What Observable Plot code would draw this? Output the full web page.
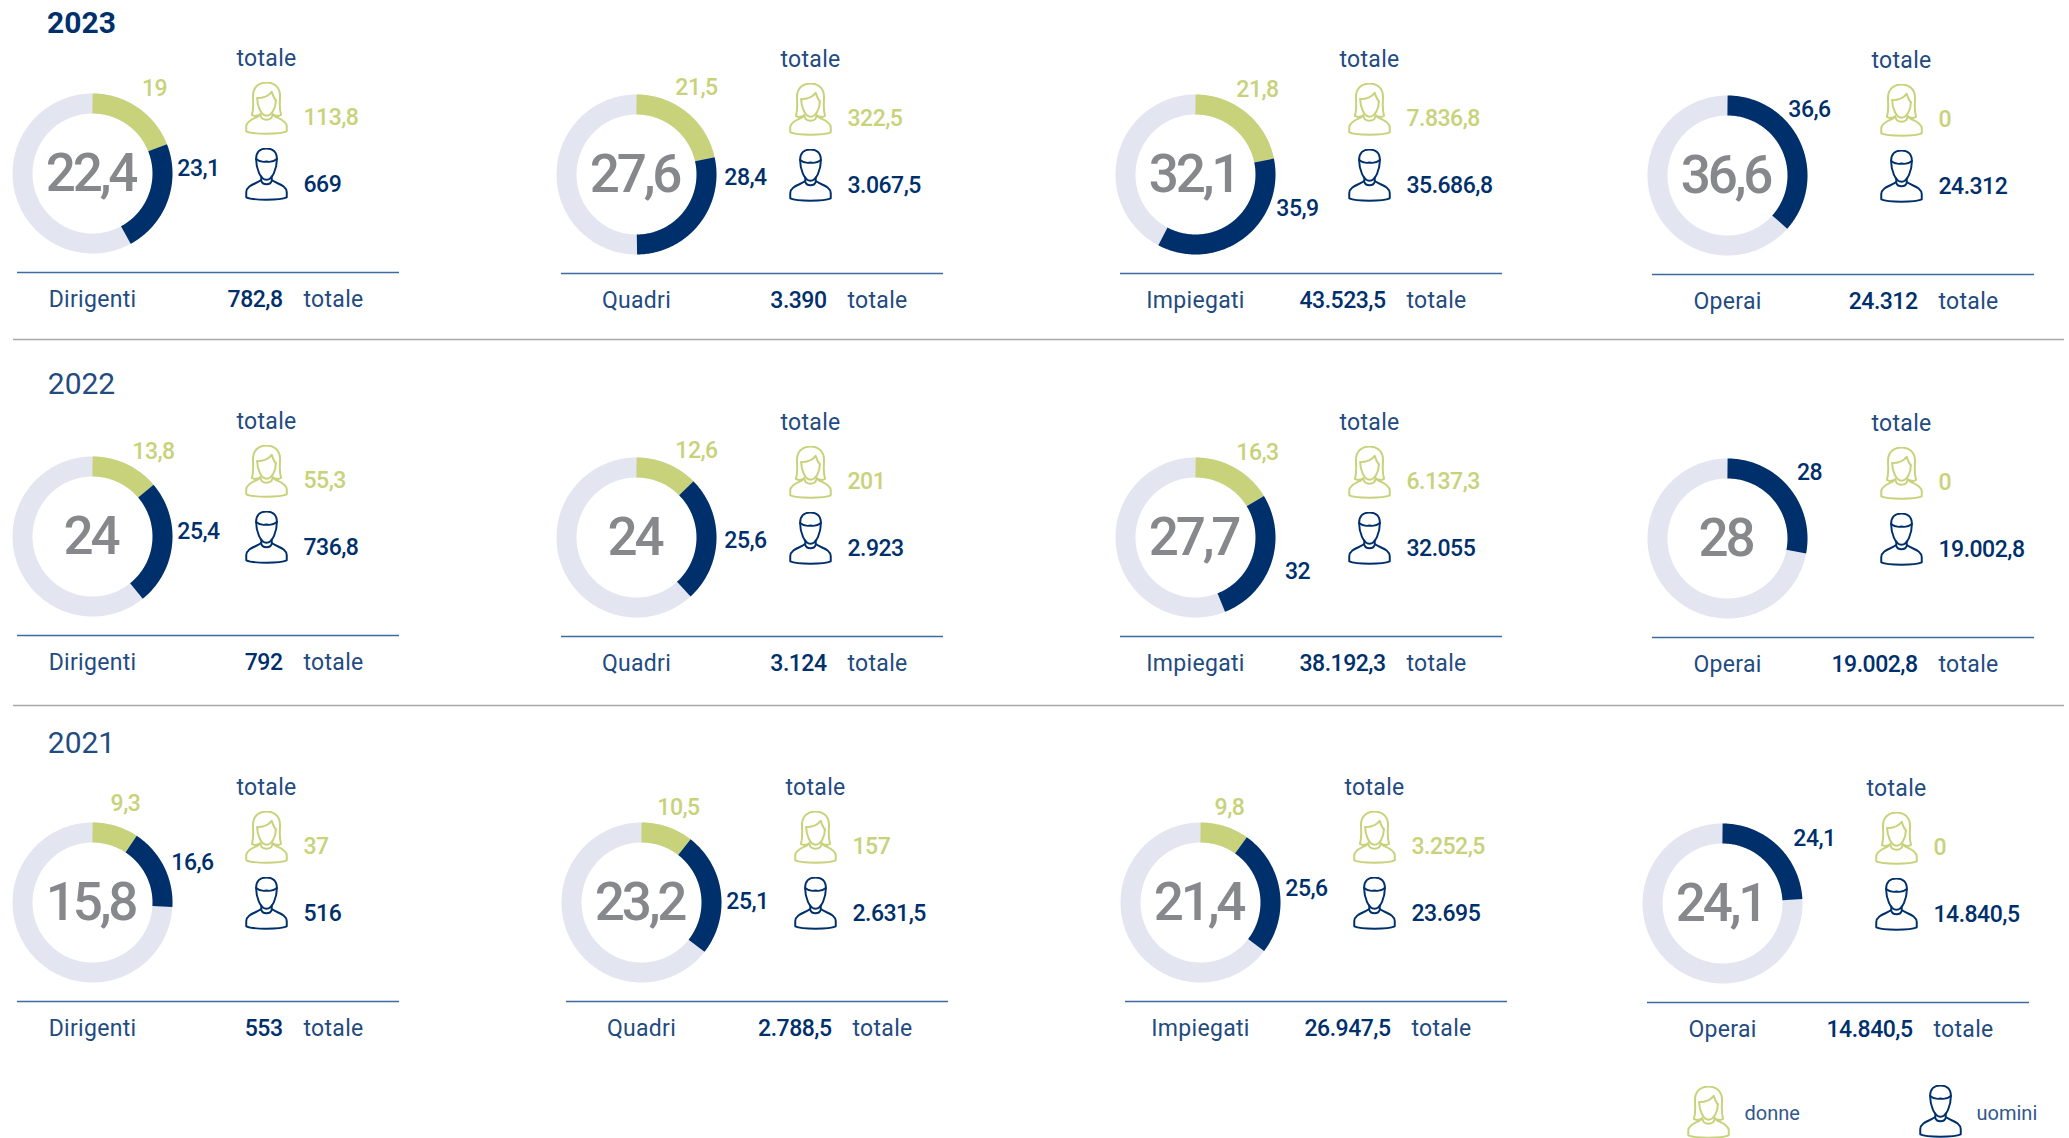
<!DOCTYPE html>
<html lang="it">
<head>
<meta charset="utf-8">
<title>Età e genere per categoria</title>
<script src="https://cdn.jsdelivr.net/npm/d3@7"></script>
<script src="https://cdn.jsdelivr.net/npm/@observablehq/plot@0.6"></script>
<style>
html,body{margin:0;padding:0;background:#fff;overflow:hidden}
svg{display:block}
g[font-size="53"] text{letter-spacing:-3.2px}
g[font-size="23"][font-weight="500"] text{letter-spacing:-.5px}
g[font-size="23"]:not([font-weight]) text{letter-spacing:.3px}
</style>
</head>
<body>
<div id="chart"></div>
<script>
// ---- data (row order: 2023, 2022, 2021; column order: categories) ----
const years = [2023, 2022, 2021];
const categories = ["Dirigenti", "Quadri", "Impiegati", "Operai"];
const womenPct = [19, 21.5, 21.8, 0, 13.8, 12.6, 16.3, 0, 9.3, 10.5, 9.8, 0];
const menPct = [23.1, 28.4, 35.9, 36.6, 25.4, 25.6, 32, 28, 16.6, 25.1, 25.6, 24.1];
// length of the navy arc as drawn; the 2022 Impiegati ring is drawn shorter than its "32" label
const menArc = [23.1, 28.4, 35.9, 36.6, 25.4, 25.6, 27.7, 28, 16.6, 25.1, 25.6, 24.1];
const overallPct = [22.4, 27.6, 32.1, 36.6, 24, 24, 27.7, 28, 15.8, 23.2, 21.4, 24.1];
const womenTotal = [113.8, 322.5, 7836.8, 0, 55.3, 201, 6137.3, 0, 37, 157, 3252.5, 0];
const menTotal = [669, 3067.5, 35686.8, 24312, 736.8, 2923, 32055, 19002.8, 516, 2631.5, 23695, 14840.5];
const allTotal = [782.8, 3390, 43523.5, 24312, 792, 3124, 38192.3, 19002.8, 553, 2788.5, 26947.5, 14840.5];

// ---- layout ----
const W = 2069, H = 1138;
const centers = [[92,173],[636,174],[1195,174],[1727,175],[92,536],[636,537],[1195,537],[1727,538],[92,902],[641,902],[1200,902],[1722,903]];
const womenLabelOffset = [[62,-85],[60,-87],[62,-85],[0,0],[61,-85],[60,-87],[62,-85],[0,0],[33,-99],[37,-95],[29,-95],[0,0]];
const menLabelOffset = [[106,-5],[109,3],[102,34],[82,-66],[106,-5],[109,3],[102,34],[82,-66],[100,-40],[106,-1],[106,-14],[92,-65]];
const yearPos = [[81,23],[81,384],[81,743]];
const separators = [339, 705];
const NAVY = "#00306b", GREEN = "#c8d27a", TRACK = "#e3e6f1", GREY = "#87888c", BLUE = "#234b80";
const FONT = "Roboto";

const fmt = d3.formatLocale({decimal: ",", thousands: ".", grouping: [3], currency: ["", ""]}).format(",.1~f");

const panels = centers.map(([cx, cy], i) => ({
  cx, cy,
  category: categories[i % 4],
  women: womenPct[i], men: menPct[i], arcMen: menArc[i], overall: overallPct[i],
  womenTotal: womenTotal[i], menTotal: menTotal[i], allTotal: allTotal[i],
  wx: cx + womenLabelOffset[i][0], wy: cy + womenLabelOffset[i][1],
  mx: cx + menLabelOffset[i][0], my: cy + menLabelOffset[i][1]
}));

// ring segments: percentages map to fractions of the circle, clockwise from 12 o'clock
const R = 70;
function arc(p, from, to) {
  const a0 = from * 3.6, a1 = to * 3.6, out = [];
  const n = Math.max(2, Math.ceil(a1 - a0));
  for (let k = 0; k <= n; k++) {
    const t = (a0 + (a1 - a0) * k / n) * Math.PI / 180;
    out.push({x: p.cx + R * Math.sin(t), y: p.cy - R * Math.cos(t), z: p.cx + "-" + p.cy});
  }
  return out;
}
const trackPts = panels.flatMap(p => arc(p, 0, 100));
const womenPts = panels.filter(p => p.women > 0).flatMap(p => arc(p, 0, p.women));
const menPts = panels.flatMap(p => arc(p, p.women, p.women + p.arcMen));

// icons
function icon(color, inner) {
  const svg = `<svg xmlns="http://www.w3.org/2000/svg" viewBox="0 0 42 52"><g fill="none" stroke="${color}" stroke-width="1.9" stroke-linecap="round" stroke-linejoin="round">${inner}</g></svg>`;
  return "data:image/svg+xml;utf8," + encodeURIComponent(svg);
}
const womanInner = `<path d="M7 32C9 26 8 20 8 14C8 5 14 1 21 1C28 1 34 5 34 14C34 20 33 26 35 32C33 34 29 33 27 31.500"/><path d="M7 32C9 34 13 33 15 31.500"/><path d="M12 16C17 16 23 14 26 10C27 13 28 16 30 18"/><path d="M12 16C12 24 16 33 21 33C26 33 30 26 30 18"/><path d="M15 31.500C14 35 2 36 1.500 43L1.500 48C8 51 34 51 40.500 48L40.500 43C40 36 28 35 27 31.500"/><path d="M15.500 33C16 38 26 38 26.500 33"/>`;
const manInner = `<path d="M21 1C15 1 11 4 11 11C11 20 15 31 21 31C27 31 31 20 31 11C31 4 27 1 21 1Z"/><path d="M11 11C14 13.500 17 14.500 21 13.500C25 14.500 28 13.500 31 11"/><path d="M16 28L16 31C13 35 2 35 1.500 43L1.500 48C8 51 34 51 40.500 48L40.500 43C40 35 29 35 26 31L26 28"/><path d="M16 32C17 36.500 25 36.500 26 32"/>`;
const womanSrc = icon(GREEN, womanInner), manSrc = icon(NAVY, manInner);

const text = (data, opts) => Plot.text(data, {fontFamily: FONT, lineAnchor: "middle", ...opts});

const plot = Plot.plot({
  width: W, height: H, margin: 0,
  x: {domain: [0, W], range: [0, W], axis: null},
  y: {domain: [0, H], range: [0, H], axis: null},
  style: {background: "#fff"},
  marks: [
    // rings
    Plot.line(trackPts, {x: "x", y: "y", z: "z", stroke: TRACK, strokeWidth: 20, strokeLinejoin: "round", strokeLinecap: "butt"}),
    Plot.line(womenPts, {x: "x", y: "y", z: "z", stroke: GREEN, strokeWidth: 20, strokeLinejoin: "round", strokeLinecap: "butt"}),
    Plot.line(menPts, {x: "x", y: "y", z: "z", stroke: NAVY, strokeWidth: 20, strokeLinejoin: "round", strokeLinecap: "butt"}),
    // ring labels
    text(panels, {x: d => d.cx - 2, y: d => d.cy + 1, text: d => fmt(d.overall), fill: GREY, fontSize: 53, fontWeight: 500}),
    text(panels.filter(p => p.women > 0), {x: "wx", y: "wy", text: d => fmt(d.women), fill: GREEN, fontSize: 23, fontWeight: 500}),
    text(panels, {x: "mx", y: "my", text: d => fmt(d.men), fill: NAVY, fontSize: 23, fontWeight: 500}),
    // headers and icons
    text(panels, {x: d => d.cx + 174, y: d => d.cy - 115, text: () => "totale", fill: BLUE, fontSize: 23}),
    Plot.image(panels, {x: d => d.cx + 174, y: d => d.cy - 65, width: 44, height: 54, src: () => womanSrc}),
    Plot.image(panels, {x: d => d.cx + 174, y: d => d.cy + 1, width: 44, height: 54, src: () => manSrc}),
    text(panels, {x: d => d.cx + 211, y: d => d.cy - 56, text: d => fmt(d.womenTotal), textAnchor: "start", fill: GREEN, fontSize: 23, fontWeight: 500}),
    text(panels, {x: d => d.cx + 211, y: d => d.cy + 11, text: d => fmt(d.menTotal), textAnchor: "start", fill: NAVY, fontSize: 23, fontWeight: 500}),
    // footer of each panel
    Plot.ruleY(panels, {x1: d => d.cx - 75, x2: d => d.cx + 307, y: d => d.cy + 99, stroke: "#3f6aa0", strokeWidth: 1.3}),
    text(panels, {x: "cx", y: d => d.cy + 126, text: "category", fill: BLUE, fontSize: 23}),
    text(panels, {x: d => d.cx + 190, y: d => d.cy + 126, text: d => fmt(d.allTotal), textAnchor: "end", fill: NAVY, fontSize: 23, fontWeight: 500}),
    text(panels, {x: d => d.cx + 211, y: d => d.cy + 126, text: () => "totale", textAnchor: "start", fill: BLUE, fontSize: 23}),
    // year headings
    text(years.map((y, i) => ({y, p: yearPos[i]})).filter(d => d.y === 2023), {x: d => d.p[0], y: d => d.p[1], text: d => String(d.y), fill: NAVY, fontSize: 30, fontWeight: 700}),
    text(years.map((y, i) => ({y, p: yearPos[i]})).filter(d => d.y !== 2023), {x: d => d.p[0], y: d => d.p[1], text: d => String(d.y), fill: BLUE, fontSize: 30}),
    // separators
    Plot.ruleY(separators, {x1: 13, x2: 2064, stroke: "#a8a8a8", strokeWidth: 1.3}),
    // legend
    Plot.image([{x: 1708, y: 1112, s: womanSrc}, {x: 1940, y: 1111, s: manSrc}], {x: "x", y: "y", width: 44, height: 54, src: "s"}),
    text([{x: 1744, t: "donne"}, {x: 1976, t: "uomini"}], {x: "x", y: () => 1113, text: "t", textAnchor: "start", fill: "#33588c", fontSize: 20})
  ]
});
document.getElementById("chart").append(plot);
</script>
</body>
</html>
